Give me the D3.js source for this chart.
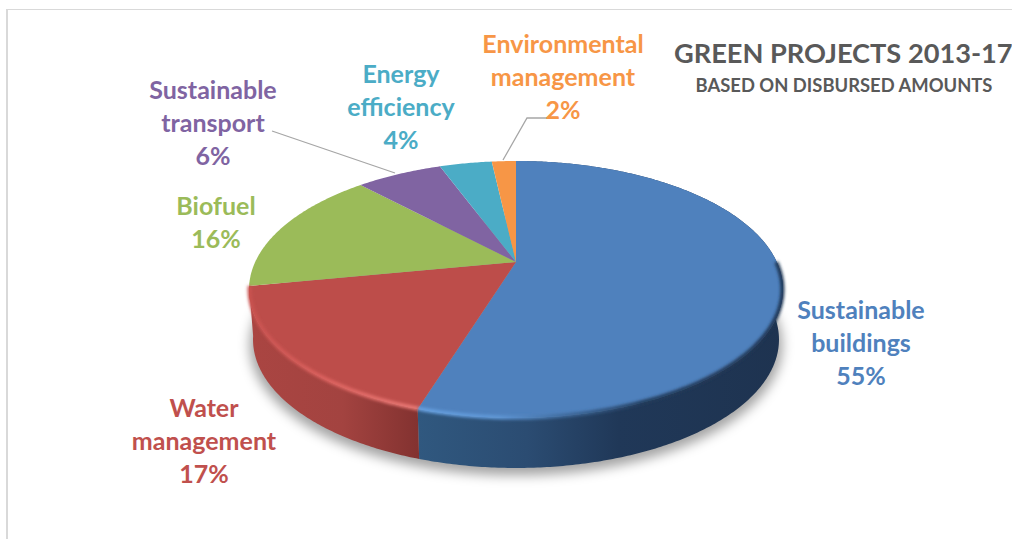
<!DOCTYPE html>
<html>
<head>
<meta charset="utf-8">
<script src="https://cdn.jsdelivr.net/npm/d3@7"></script>
<style>
html, body { margin: 0; padding: 0; background: #fff; overflow: hidden; }
svg { display: block; }
text { font-family: Lato, "Open Sans", sans-serif; font-weight: 700; }
</style>
</head>
<body>
<svg id="chart" width="1012" height="539"></svg>
<script>
"use strict"

// values, clockwise from 12 o'clock (labels show them rounded)
var categories = ["Sustainable buildings", "Water management", "Biofuel", "Sustainable transport", "Energy efficiency", "Environmental management"];
var shares = [54.85, 17.15, 15.9, 6.4, 3.9, 1.8];
var colors = ["#4f81bd", "#bd4d4a", "#9bbb59", "#8064a2", "#4bacc6", "#f79646"];
var labelLines = [["Sustainable", "buildings"], ["Water", "management"], ["Biofuel"], ["Sustainable", "transport"], ["Energy", "efficiency"], ["Environmental", "management"]];
var titleText = "GREEN PROJECTS 2013-17";
var subtitleText = "BASED ON DISBURSED AMOUNTS";

// layout
var labelX = [861, 204, 216, 213, 401, 563];
var labelY = [319, 417, 215, 99, 83, 53];
var lineGap = 32.8;
var apexX = 516, apexY = 262;   // where the slices meet
var scaleX = 260.8, scaleY = 122.6, persp = 0.214, depth = 50, bottomShrink = 0.985;

var svg = d3.select("#chart");
var defs = svg.append("defs");

// perspective projection of a disc, angle clockwise from the far point
function project(a, r, drop) {
	var u = Math.sin(a) * r;
	var v = -Math.cos(a) * r;
	var w = 1 - persp * v;
	var k = drop ? bottomShrink : 1;
	return [apexX + scaleX * u / w * k, apexY + scaleY * v / w + (drop || 0)];
}
function arcPoints(a0, a1, r, drop) {
	var n = Math.max(2, Math.ceil((a1 - a0) / 0.01));
	return d3.range(n + 1).map(function(i) { return project(a0 + (a1 - a0) * i / n, r, drop); });
}
var line = d3.line();
var rad = Math.PI / 180;

var pie = d3.pie().sort(null).value(function(d) { return d; });
var slices = pie(shares);

function addGradient(id, stops, x1, x2) {
	var g = defs.append("linearGradient").attr("id", id)
		.attr("gradientUnits", "userSpaceOnUse")
		.attr("x1", x1).attr("x2", x2).attr("y1", 0).attr("y2", 0);
	stops.forEach(function(s) {
		g.append("stop").attr("offset", s[0]).attr("stop-color", s[1]);
	});
}
addGradient("sideBlue", [[0, "#30587f"], [0.3, "#2b4c72"], [0.55, "#203858"], [1, "#1e3350"]], 418, 783);
addGradient("sideRed", [[0, "#aa4542"], [0.55, "#a34340"], [1, "#833230"]], 250, 418);
addGradient("rimBlue", [[0, "#66a0e0"], [0.22, "#5f97d6"], [0.4, "#3f6a9c"], [0.62, "#223c5c"], [1, "#1f3552"]], 418, 783);
addGradient("rimRed", [[0, "#c9524f"], [0.45, "#dd625f"], [1, "#ea7a76"]], 250, 418);

var soft = defs.append("filter").attr("id", "soft")
	.attr("x", "-20%").attr("y", "-20%").attr("width", "140%").attr("height", "140%");
soft.append("feGaussianBlur").attr("stdDeviation", 6);
var rimBlur = defs.append("filter").attr("id", "rimBlur")
	.attr("x", "-10%").attr("y", "-10%").attr("width", "120%").attr("height", "120%");
rimBlur.append("feGaussianBlur").attr("stdDeviation", 1.5);

// frame
svg.append("line").attr("x1", 6).attr("x2", 1012).attr("y1", 9.5).attr("y2", 9.5)
	.attr("stroke", "#d9d9d9").attr("stroke-width", 1.2);
svg.append("line").attr("x1", 7).attr("x2", 7).attr("y1", 9).attr("y2", 539)
	.attr("stroke", "#d9d9d9").attr("stroke-width", 2);

// drop shadow under the pie
svg.append("path")
	.attr("d", line(arcPoints(0, 2 * Math.PI, 1.012, depth + 5)) + "Z")
	.attr("fill", "#000").attr("fill-opacity", 0.36)
	.attr("filter", "url(#soft)");

// side wall, only the two near slices show one
var sideFills = ["url(#sideBlue)", "url(#sideRed)"];
svg.append("g").selectAll("path")
	.data(slices.slice(0, 2))
	.join("path")
	.attr("d", function(d) {
		var top = arcPoints(d.startAngle, d.endAngle, 1, 0);
		var bottom = arcPoints(d.startAngle, d.endAngle, 1, depth).reverse();
		return line(top.concat(bottom)) + "Z";
	})
	.attr("fill", function(d) { return sideFills[d.index]; });

// top face
svg.append("g").selectAll("path")
	.data(slices)
	.join("path")
	.attr("d", function(d) {
		return line([[apexX, apexY]].concat(arcPoints(d.startAngle, d.endAngle, 1, 0))) + "Z";
	})
	.attr("fill", function(d) { return colors[d.index]; });

// bevel along the near rim
svg.append("path")
	.attr("d", line(arcPoints(90 * rad, slices[0].endAngle, 0.998, 0)))
	.attr("fill", "none").attr("stroke", "url(#rimBlue)").attr("stroke-width", 4)
	.attr("filter", "url(#rimBlur)");
svg.append("path")
	.attr("d", line(arcPoints(slices[1].startAngle, slices[1].endAngle, 0.998, 0)))
	.attr("fill", "none").attr("stroke", "url(#rimRed)").attr("stroke-width", 4)
	.attr("filter", "url(#rimBlur)");

// leader lines
var leaderColor = "#a6a6a6";
svg.append("path").attr("d", "M272,131L395,173").attr("fill", "none").attr("stroke", leaderColor).attr("stroke-width", 1.3);
svg.append("path").attr("d", "M547,118L527,118L503,160").attr("fill", "none").attr("stroke", leaderColor).attr("stroke-width", 1.3);

// labels
slices.forEach(function(d, i) {
	var rows = labelLines[i].concat([Math.round(shares[i]) + "%"]);
	svg.append("text")
		.attr("text-anchor", "middle")
		.attr("fill", i == 1 ? "#c0504d" : colors[i])
		.attr("font-size", 25)
		.selectAll("tspan")
		.data(rows)
		.join("tspan")
		.attr("x", labelX[i])
		.attr("y", function(r, j) { return labelY[i] + j * lineGap; })
		.text(function(r) { return r; });
});

// title, runs up to the right edge like the source
svg.append("text").attr("x", 674).attr("y", 63)
	.attr("fill", "#595959").attr("font-size", 27.2).text(titleText);
svg.append("text").attr("x", 844).attr("y", 92).attr("text-anchor", "middle")
	.attr("fill", "#595959").attr("font-size", 18.4).text(subtitleText);
</script>
</body>
</html>
